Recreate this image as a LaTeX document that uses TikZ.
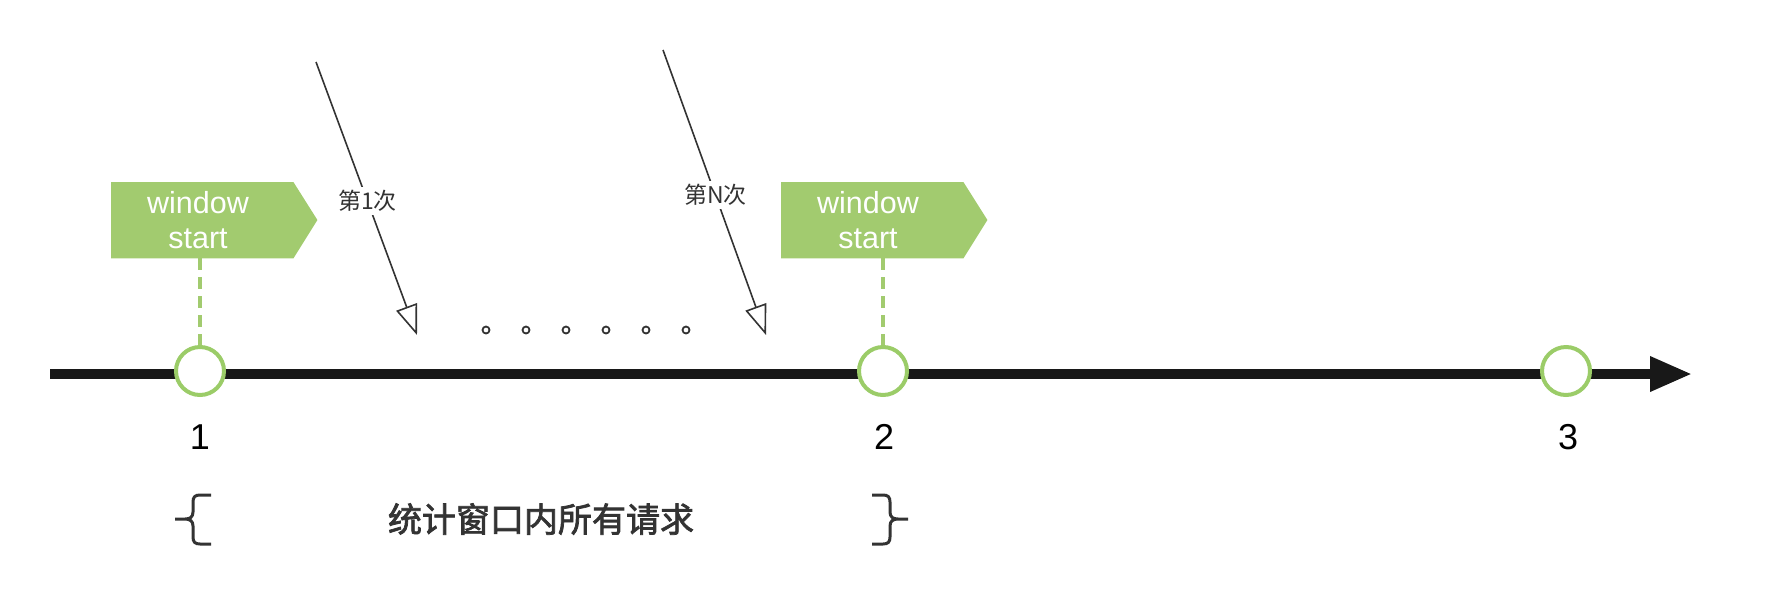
\documentclass[tikz,border=0pt]{standalone}
\usepackage{fontspec}
\setmainfont{Liberation Sans}
\newfontfamily\cjk{Noto Sans CJK SC}
\newfontfamily\cjkheavy[FakeBold=2.2]{Noto Sans CJK SC}
\usetikzlibrary{arrows.meta}
\definecolor{flaggreen}{RGB}{162,203,111}
\definecolor{ringgreen}{RGB}{155,204,104}
\definecolor{ink}{RGB}{51,51,51}
\definecolor{axisblack}{RGB}{24,24,24}
\begin{document}
\begin{tikzpicture}[x=1pt,y=-1pt,
  flagbody/.style={draw=none, minimum width=182pt, minimum height=76pt, inner sep=0, anchor=north west},
  flagtext/.style={text=white, font=\fontsize{30.5}{35.6}\selectfont, align=center, inner sep=0},
  ring/.style={circle, draw=ringgreen, line width=4pt, fill=white, minimum size=48pt, inner sep=0},
  ticklabel/.style={font=\fontsize{36}{40}\selectfont, text=black, inner sep=0},
  guide/.style={draw=flaggreen, line width=4pt, dash pattern=on 12pt off 7pt},
  req/.style={draw=ink, line width=1.6pt, -{Triangle[length=30pt,width=22pt,fill=white]}},
  reqlabel/.style={fill=white, text=ink, font=\cjk\fontsize{23}{26}\selectfont, inner sep=3pt},
  dotmark/.style={circle, draw=ink, line width=1.8pt, fill=white, minimum size=7pt, inner sep=0},
  brace/.style={draw=ink, line width=3pt},
  axisline/.style={draw=axisblack, line width=9.5pt, -{Triangle[length=42pt,width=33pt]}},
]
\useasboundingbox (0,0) rectangle (1768,595);

% axis
\coordinate (ax0) at (50,374);
\coordinate (ax1) at (1692,374);
\path[axisline] (ax0) -- (ax1);

% ticks
\node[ring] (c1) at (200,371) {};
\node[ring] (c2) at (883,371) {};
\node[ring] (c3) at (1566,371) {};
\node[ticklabel] (n1) at (200,437) {1};
\node[ticklabel] (n2) at (884,437) {2};
\node[ticklabel] (n3) at (1568,437) {3};

% flags
\node[flagbody] (f1) at (111,182) {};
\fill[flaggreen] (f1.north west) -- (f1.north east) -- ++(24,38) -- (f1.south east) -- (f1.south west) -- cycle;
\node[flagtext] (t1) at (198,220) {window\\start};
\node[flagbody] (f2) at (781,182) {};
\fill[flaggreen] (f2.north west) -- (f2.north east) -- ++(24,38) -- (f2.south east) -- (f2.south west) -- cycle;
\node[flagtext] (t2) at (868,220) {window\\start};
\path[guide] (c1 |- f1.south) -- (c1.north);
\path[guide] (c2 |- f2.south) -- (c2.north);

% requests
\coordinate (r1s) at (316,62);
\coordinate (r1e) at (417,335);
\coordinate (rNs) at (663,50);
\coordinate (rNe) at (766,335);
\path[req] (r1s) -- node[reqlabel, pos=0.509] (l1) {第1次} (r1e);
\path[req] (rNs) -- node[reqlabel, pos=0.509] (lN) {第N次} (rNe);

% dots
\foreach \i/\x in {1/486,2/526,3/566,4/606,5/646,6/686}
  \node[dotmark] (d\i) at (\x,330) {};

% braces
\path[brace] (211,495) -- (200,495) .. controls (195,495) and (193,497) .. (193,502) -- (193,512)
  .. controls (193,517) and (190,519) .. (185,519) -- (175,519)
  (185,519) .. controls (190,519) and (193,521) .. (193,526) -- (193,537)
  .. controls (193,542) and (195,544) .. (200,544) -- (211,544);
\path[brace] (872,495) -- (883,495) .. controls (888,495) and (890,497) .. (890,502) -- (890,512)
  .. controls (890,517) and (893,519) .. (898,519) -- (908,519)
  (898,519) .. controls (893,519) and (890,521) .. (890,526) -- (890,537)
  .. controls (890,542) and (888,544) .. (883,544) -- (872,544);
\node[font=\cjkheavy\fontsize{34}{40}\selectfont, text=ink] (sum) at (541,519) {统计窗口内所有请求};
\end{tikzpicture}
\end{document}
